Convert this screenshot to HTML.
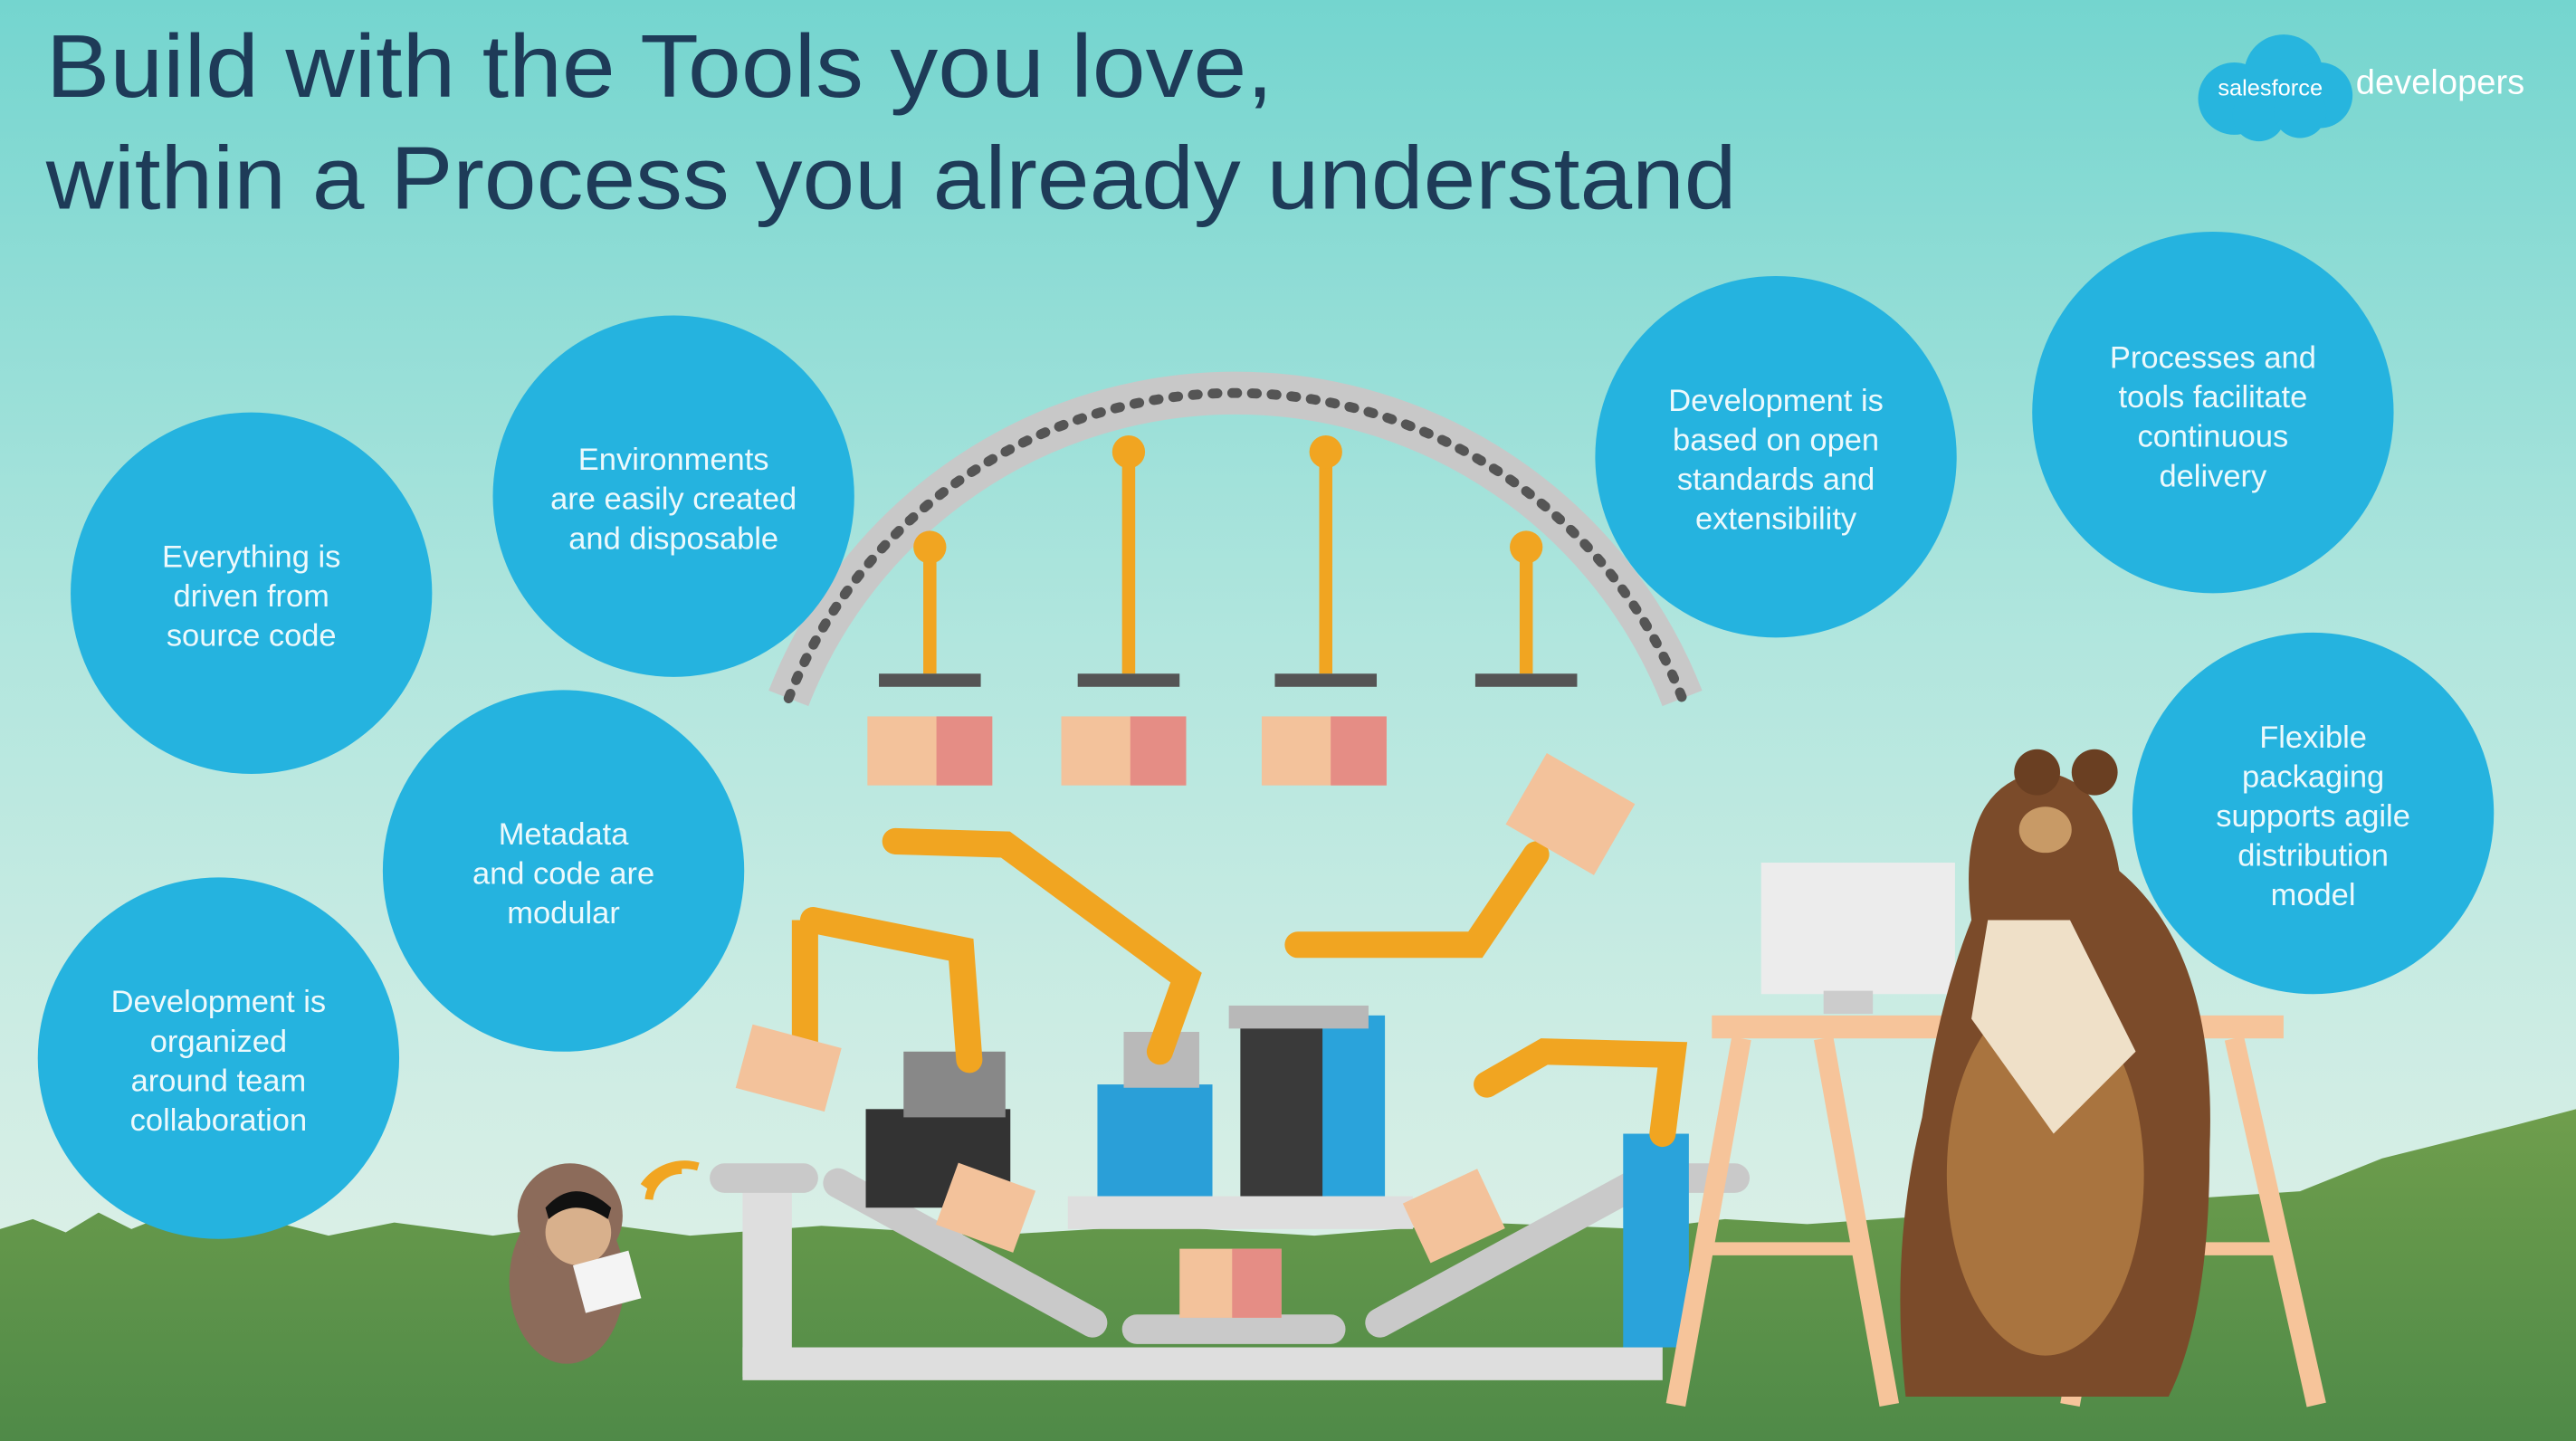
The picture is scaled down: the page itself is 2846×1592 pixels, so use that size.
<!DOCTYPE html>
<html><head><meta charset="utf-8"><style>
html,body{margin:0;padding:0;width:2846px;height:1592px;overflow:hidden}
svg{display:block}
text{font-family:"Liberation Sans",sans-serif}
</style></head><body>
<svg width="2846" height="1592" viewBox="0 0 1568 877" preserveAspectRatio="none" xmlns="http://www.w3.org/2000/svg">
<defs>
<linearGradient id="sky" x1="0" y1="0" x2="0" y2="1">
<stop offset="0" stop-color="#74d5cf"/><stop offset="0.45" stop-color="#b2e6de"/><stop offset="0.85" stop-color="#d9efe6"/>
</linearGradient>
<linearGradient id="grass" x1="0" y1="0" x2="0" y2="1">
<stop offset="0" stop-color="#6f9e4c"/><stop offset="1" stop-color="#4f8a48"/>
</linearGradient>
</defs>
<rect width="1568" height="877" fill="url(#sky)"/>
<path d="M0 748 L20 742 L40 750 L60 738 L80 748 L100 740 L130 750 L160 742 L200 752 L240 744 L300 752 L360 744 L420 752 L500 746 L600 752 L700 746 L800 752 L900 744 L1000 748 L1050 742 L1100 745 L1400 725 L1450 705 L1490 695 L1530 685 L1568 675 L1568 877 L0 877Z" fill="url(#grass)"/>
<text x="28" y="59" font-size="54" fill="#1e3b58" textLength="747" lengthAdjust="spacingAndGlyphs">Build with the Tools you love,</text>
<text x="28" y="127" font-size="54" fill="#1e3b58" textLength="1029" lengthAdjust="spacingAndGlyphs">within a Process you already understand</text>
<g fill="#27b5de">
<circle cx="1360" cy="60" r="22"/><circle cx="1390" cy="45" r="24"/><circle cx="1412" cy="58" r="20"/><circle cx="1375" cy="70" r="16"/><circle cx="1400" cy="68" r="16"/>
</g>
<text x="1350" y="58" font-size="14" fill="#fff">salesforce</text>
<text x="1434" y="57" font-size="21" fill="#fff">developers</text>
<!-- arch -->
<path d="M480 425 A292 292 0 0 1 1024 425" fill="none" stroke="#c8c8c8" stroke-width="26"/>
<path d="M480 425 A292 292 0 0 1 1024 425" fill="none" stroke="#555" stroke-width="6" stroke-dasharray="3 9" stroke-linecap="round"/>
<g fill="#f1a521">
<rect x="562" y="330" width="8" height="80"/><rect x="683" y="270" width="8" height="140"/><rect x="803" y="270" width="8" height="140"/><rect x="925" y="330" width="8" height="80"/>
</g>
<g fill="#f1a521"><circle cx="566" cy="333" r="10"/><circle cx="687" cy="275" r="10"/><circle cx="807" cy="275" r="10"/><circle cx="929" cy="333" r="10"/></g>
<g fill="#555"><rect x="535" y="410" width="62" height="8"/><rect x="656" y="410" width="62" height="8"/><rect x="776" y="410" width="62" height="8"/><rect x="898" y="410" width="62" height="8"/></g>
<g fill="#f3c29b"><rect x="528" y="436" width="76" height="42"/><rect x="646" y="436" width="76" height="42"/><rect x="768" y="436" width="76" height="42"/></g>
<g fill="#e58d85"><rect x="570" y="436" width="34" height="42"/><rect x="688" y="436" width="34" height="42"/><rect x="810" y="436" width="34" height="42"/></g>
<!-- machine base -->
<rect x="452" y="720" width="30" height="118" fill="#dedede"/>
<rect x="452" y="820" width="560" height="20" fill="#dedede"/>
<rect x="650" y="728" width="210" height="20" fill="#dedede"/>
<rect x="432" y="708" width="66" height="18" rx="9" fill="#c9c9c9"/>
<path d="M510 720 L665 805" stroke="#c9c9c9" stroke-width="18" stroke-linecap="round"/>
<rect x="683" y="800" width="136" height="18" rx="9" fill="#c9c9c9"/>
<path d="M840 805 L1000 718" stroke="#c9c9c9" stroke-width="18" stroke-linecap="round"/>
<rect x="1005" y="708" width="60" height="18" rx="9" fill="#c9c9c9"/>
<rect x="527" y="675" width="88" height="60" fill="#333"/>
<rect x="550" y="640" width="62" height="40" fill="#888"/>
<rect x="668" y="660" width="70" height="68" fill="#2a9fd8"/>
<rect x="684" y="628" width="46" height="34" fill="#b9b9b9"/>
<rect x="755" y="625" width="52" height="103" fill="#3a3a3a"/>
<rect x="805" y="618" width="38" height="110" fill="#2aa3db"/>
<rect x="748" y="612" width="85" height="14" fill="#b8b8b8"/>
<rect x="988" y="690" width="40" height="130" fill="#2aa3db"/>
<rect x="575" y="715" width="50" height="40" fill="#f3c29b" transform="rotate(20 600 735)"/>
<rect x="860" y="720" width="50" height="40" fill="#f3c29b" transform="rotate(-25 885 740)"/>
<rect x="718" y="760" width="62" height="42" fill="#f3c29b"/><rect x="750" y="760" width="30" height="42" fill="#e58d85"/>
<!-- arms -->
<g fill="none" stroke="#f1a521" stroke-width="16" stroke-linecap="round">
<path d="M495 560 L585 578 L590 645"/>
<path d="M545 512 L612 514 L722 595 L706 640"/>
<path d="M790 575 L898 575 L935 520"/>
<path d="M905 660 L940 640 L1018 642 L1012 690"/>
</g>
<path d="M490 560 L490 640" stroke="#f1a521" stroke-width="16"/>
<rect x="452" y="630" width="56" height="40" fill="#f3c29b" transform="rotate(15 480 650)"/>
<rect x="925" y="470" width="62" height="50" fill="#f3c29b" transform="rotate(30 955 495)"/>
<!-- circles -->
<g fill="#25b3df">
<circle cx="153" cy="361" r="110"/><circle cx="410" cy="302" r="110"/><circle cx="343" cy="530" r="110"/><circle cx="133" cy="644" r="110"/>
<circle cx="1081" cy="278" r="110"/><circle cx="1347" cy="251" r="110"/><circle cx="1408" cy="495" r="110"/>
</g>
<g fill="#fff" font-size="19" text-anchor="middle" opacity="0.92">
<text x="153" y="345">Everything is</text><text x="153" y="369">driven from</text><text x="153" y="393">source code</text>
<text x="410" y="286">Environments</text><text x="410" y="310">are easily created</text><text x="410" y="334">and disposable</text>
<text x="343" y="514">Metadata</text><text x="343" y="538">and code are</text><text x="343" y="562">modular</text>
<text x="133" y="616">Development is</text><text x="133" y="640">organized</text><text x="133" y="664">around team</text><text x="133" y="688">collaboration</text>
<text x="1081" y="250">Development is</text><text x="1081" y="274">based on open</text><text x="1081" y="298">standards and</text><text x="1081" y="322">extensibility</text>
<text x="1347" y="224">Processes and</text><text x="1347" y="248">tools facilitate</text><text x="1347" y="272">continuous</text><text x="1347" y="296">delivery</text>
<text x="1408" y="455">Flexible</text><text x="1408" y="479">packaging</text><text x="1408" y="503">supports agile</text><text x="1408" y="527">distribution</text><text x="1408" y="551">model</text>
</g>
<!-- desk -->
<rect x="1072" y="525" width="118" height="80" fill="#ececec"/>
<rect x="1110" y="603" width="30" height="14" fill="#ccc"/>
<rect x="1042" y="618" width="348" height="14" fill="#f6c49a"/>
<path d="M1060 632 L1020 855 M1110 632 L1150 855 M1300 632 L1260 855 M1360 632 L1410 855" stroke="#f6c49a" stroke-width="12"/>
<path d="M1040 760 L1130 760 M1280 760 L1390 760" stroke="#f6c49a" stroke-width="8"/>
<!-- bear -->
<path d="M1200 560 Q1190 480 1240 470 Q1280 470 1290 530 Q1350 580 1345 700 Q1345 800 1320 850 L1160 850 Q1150 760 1170 680 Q1180 610 1200 560Z" fill="#7b4b2a"/>
<ellipse cx="1245" cy="715" rx="60" ry="110" fill="#a9743f"/>
<path d="M1210 560 L1260 560 L1300 640 L1250 690 L1200 620Z" fill="#efe0c8"/>
<circle cx="1240" cy="470" r="14" fill="#6a3f22"/><circle cx="1275" cy="470" r="14" fill="#6a3f22"/>
<ellipse cx="1245" cy="505" rx="16" ry="14" fill="#c89a66"/>
<!-- astro -->
<ellipse cx="345" cy="780" rx="35" ry="50" fill="#8c6b5a"/>
<circle cx="347" cy="740" r="32" fill="#8c6b5a"/>
<ellipse cx="352" cy="750" rx="20" ry="20" fill="#d8b08c"/>
<path d="M332 735 Q350 715 372 735 L370 742 Q350 728 334 742Z" fill="#111"/>
<rect x="352" y="765" width="35" height="30" fill="#f4f4f4" transform="rotate(-15 370 780)"/>
<path d="M395 730 A20 20 0 0 1 415 712 M392 722 A30 30 0 0 1 425 710" fill="none" stroke="#f1a521" stroke-width="5"/>
</svg>
</body></html>
